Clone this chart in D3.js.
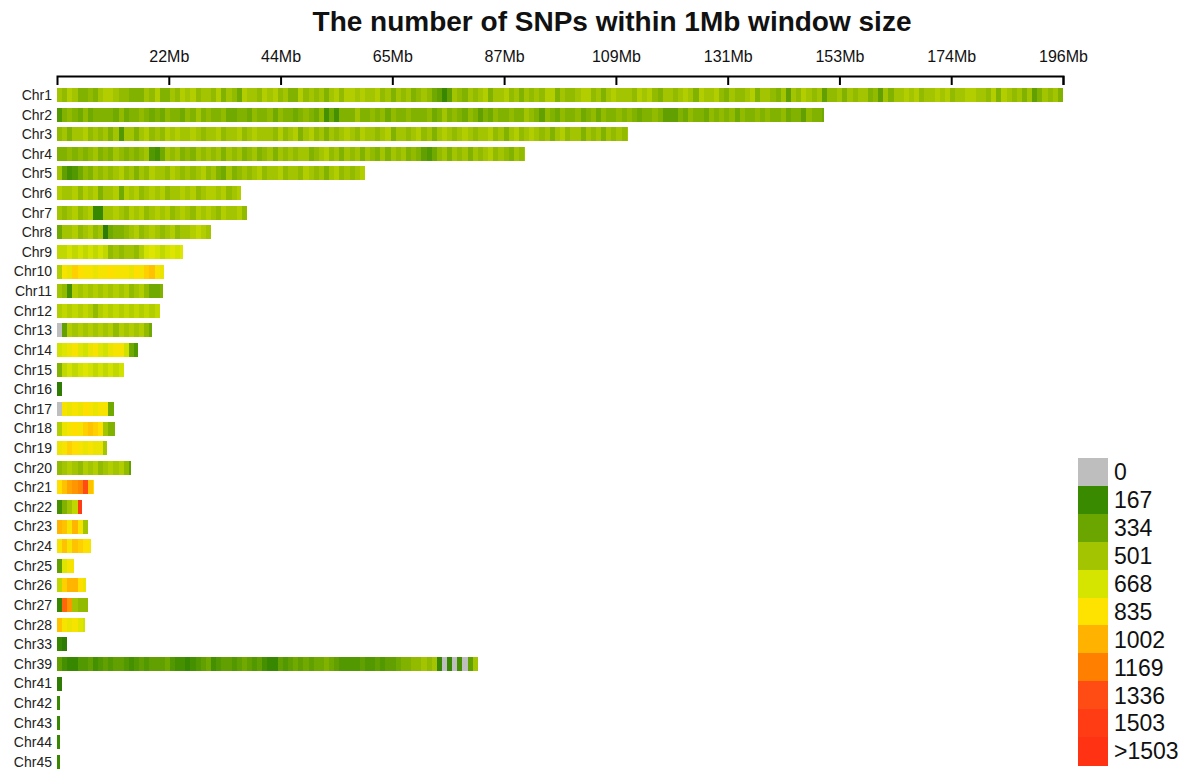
<!DOCTYPE html>
<html>
<head>
<meta charset="utf-8">
<script src="https://cdn.jsdelivr.net/npm/d3@7"></script>
<style>
  html, body { margin: 0; padding: 0; background: #fff; }
  svg { display: block; font-family: "Liberation Sans", Arial, sans-serif; }
</style>
</head>
<body>
<svg id="chart" width="1188" height="773"></svg>
<script>
// Chromosome names and lengths (Mb)
const chromosomes = ["Chr1","Chr2","Chr3","Chr4","Chr5","Chr6","Chr7","Chr8","Chr9","Chr10",
  "Chr11","Chr12","Chr13","Chr14","Chr15","Chr16","Chr17","Chr18","Chr19","Chr20",
  "Chr21","Chr22","Chr23","Chr24","Chr25","Chr26","Chr27","Chr28","Chr33","Chr39",
  "Chr41","Chr42","Chr43","Chr44","Chr45"];
const lengthsMb = [196.0,149.4,111.2,91.2,60.0,35.7,37.0,30.0,24.4,20.7,
  20.5,20.0,18.5,15.8,13.0,1.0,11.0,11.3,9.7,14.4,
  7.2,4.9,6.0,6.6,3.3,5.6,6.0,5.3,1.9,82.0,
  1.0,0.5,0.5,0.5,0.5];

// SNP counts per 1Mb window, one base-36 digit per window, in steps of 50 SNPs
// (digit value x 50 = SNP count; "0" = no SNPs in the window), ten windows per block
const windowCounts = [
  ["a9ba8898ab","ba99888a9b","88a9bab9aa","9b8a97baa9","bab9a88b9a","9a8ab9bbab","aab9a8a9a8",
   "9a97636a98","a9ab8aab9a","8a9a9bb8a9","9abb9a8aba","aa9bab98aa","9aba8baab9","8a99ab8aa9",
   "8a6a9ba9a6","99a8a9aa89","6a8aabab9a","abab9aabba","a9b8ba9a8a","68a9a8"],
  ["5898797888","8797889878","7988798a89","8897788798","8979887898","79474888a8","8989798898",
   "88978a8987","9868798898","8a98698798","8978979889","8987889866","6879887989","8979889898",
   "8978869887"],
  ["9a8aab9a9a","8a5aa8ab9a","9babaaba9a","ab9aab9aba","aa9b9ab8ab","9a8a9aba9b","aa9ab8aa9a",
   "b9a8aba9ab","a9aab9a8ab","9aba9a8ab9","aa8a9a8a9a","9a"],
  ["8898989a89","8a98989a54","7a9a898a9a","9a8a9a89a8","9a8a9a9aa8","9ab9a8a9a8","a98a8a9a89",
   "86579a8a9a","8a9ab9a98a","9a"],
  ["a645798a9a","9ab9a8a9ba","a9ba9a9ab9","a87a89a9ab","9aab9aa9ba","9a8ab9a9ab"],
  ["baab9bab8a","ab7bab9aba","b9aabab9ab","bab9ab"],
  ["a9ab9ab33a","aba9bab9ab","ab9aba9bab","a9baab9"],
  ["7aab9ab9a2","7889ab9aba","9ab9aabcba"],
  ["ccdcdcdcdc","9a9aa9bded","cdedecd"],
  ["bgfihggfgg","hgggfhgijg","f"],
  ["a94bababab","abab9ab977","8"],
  ["bcbcbcb9bc","bcbcbcbcbc"],
  ["06babababa","b9babab97"],
  ["defgedfged","fggd75"],
  ["8cdcdedcdc","dcd"],
  ["2"],
  ["0gfgfhgfgg","7"],
  ["bfghgijiha","88"],
  ["fgihgfgffa"],
  ["9aba9bab9a","bab96"],
  ["hjlmnrjh"],
  ["48acu"],
  ["kjgkga"],
  ["gjgjihg"],
  ["6egg"],
  ["cikkhf"],
  ["3pma99"],
  ["jgfged"],
  ["32"],
  ["6433556456","5665456566","6754434567","4566567656","4336567676","7787655556",
   "5565667889","9a9a303040","6a"],
  ["2"],
  ["3"],
  ["3"],
  ["3"],
  ["3"]
];

// Axis ticks (Mb) and their labels
const tickMb = [21.78, 43.56, 65.33, 87.11, 108.89, 130.67, 152.44, 174.22, 196.0];
const tickLabels = ["22Mb","44Mb","65Mb","87Mb","109Mb","131Mb","153Mb","174Mb","196Mb"];

// Legend breaks and colours
const legendLabels = ["0","167","334","501","668","835","1002","1169","1336","1503",">1503"];
const legendBreaks = [0,167,334,501,668,835,1002,1169,1336,1503,1670];
const legendColors = ["#bebebe","#3a8a00","#6ba600","#a3c400","#d6e500","#ffe300",
                      "#ffb300","#ff8000","#ff4c14","#ff3c14","#ff3314"];
// Darkest green used for the sparsest non-empty windows
const lowColor = "#1c6808";

const svg = d3.select("#chart");

const x = d3.scaleLinear().domain([0, 196]).range([57, 1063]);
const y = d3.scalePoint().domain(chromosomes).range([95, 762]);
const barH = 14;

// Continuous colour for windows with SNPs, grey for empty windows
const ramp = d3.scaleLinear()
  .domain([1].concat(legendBreaks.slice(1)))
  .range([lowColor].concat(legendColors.slice(1)))
  .interpolate(d3.interpolateRgb)
  .clamp(true);
const colorOf = c => c === 0 ? legendColors[0] : ramp(c);

// Title
svg.append("text")
  .attr("x", 612).attr("y", 31)
  .attr("text-anchor", "middle")
  .attr("font-size", 28).attr("font-weight", "bold")
  .attr("fill", "#111")
  .text("The number of SNPs within 1Mb window size");

// Top axis with ticks hanging below the line
const axis = d3.axisTop(x)
  .tickValues(tickMb)
  .tickFormat((d, i) => tickLabels[i])
  .tickSizeInner(-9)
  .tickSizeOuter(-9)
  .tickPadding(14);

const gAxis = svg.append("g")
  .attr("transform", "translate(0,76)")
  .call(axis);
gAxis.select(".domain").attr("stroke", "#000").attr("stroke-width", 2);
gAxis.selectAll(".tick line").attr("stroke", "#000").attr("stroke-width", 2);
gAxis.selectAll(".tick text")
  .attr("font-size", 16)
  .attr("fill", "#111")
  .attr("font-family", "'Liberation Sans', Arial, sans-serif");

// Window data
const rows = chromosomes.map((name, ci) => {
  const codes = windowCounts[ci].join("");
  const len = lengthsMb[ci];
  const wins = [];
  for (let i = 0; i < codes.length; i++) {
    const start = i;
    const end = Math.min(i + 1, len);
    if (end <= start) break;
    wins.push({ chr: name, start, end, count: parseInt(codes[i], 36) * 50 });
  }
  return { name, wins };
});

// Chromosome labels
svg.append("g")
  .selectAll("text")
  .data(chromosomes)
  .join("text")
  .attr("x", 52)
  .attr("y", d => y(d))
  .attr("dy", "0.35em")
  .attr("text-anchor", "end")
  .attr("font-size", 14)
  .attr("fill", "#222")
  .text(d => d);

// Window cells
const gRows = svg.append("g")
  .selectAll("g")
  .data(rows)
  .join("g")
  .attr("transform", d => `translate(0,${y(d.name) - barH / 2})`);

gRows.selectAll("rect")
  .data(d => d.wins)
  .join("rect")
  .attr("x", d => x(d.start))
  .attr("width", d => x(d.end) - x(d.start) + 0.3)
  .attr("y", 0)
  .attr("height", barH)
  .attr("fill", d => colorOf(d.count))
  .attr("shape-rendering", "crispEdges");

// Legend
const legY = d3.scaleBand().domain(legendLabels).range([458, 765]);
const gLeg = svg.append("g");
gLeg.selectAll("rect")
  .data(legendLabels)
  .join("rect")
  .attr("x", 1078)
  .attr("y", d => legY(d))
  .attr("width", 30)
  .attr("height", legY.bandwidth() + 0.5)
  .attr("fill", (d, i) => legendColors[i])
  .attr("shape-rendering", "crispEdges");
gLeg.selectAll("text")
  .data(legendLabels)
  .join("text")
  .attr("x", 1114)
  .attr("y", d => legY(d) + legY.bandwidth() / 2)
  .attr("dy", "0.36em")
  .attr("font-size", 23)
  .attr("fill", "#111")
  .text(d => d);
</script>
</body>
</html>
